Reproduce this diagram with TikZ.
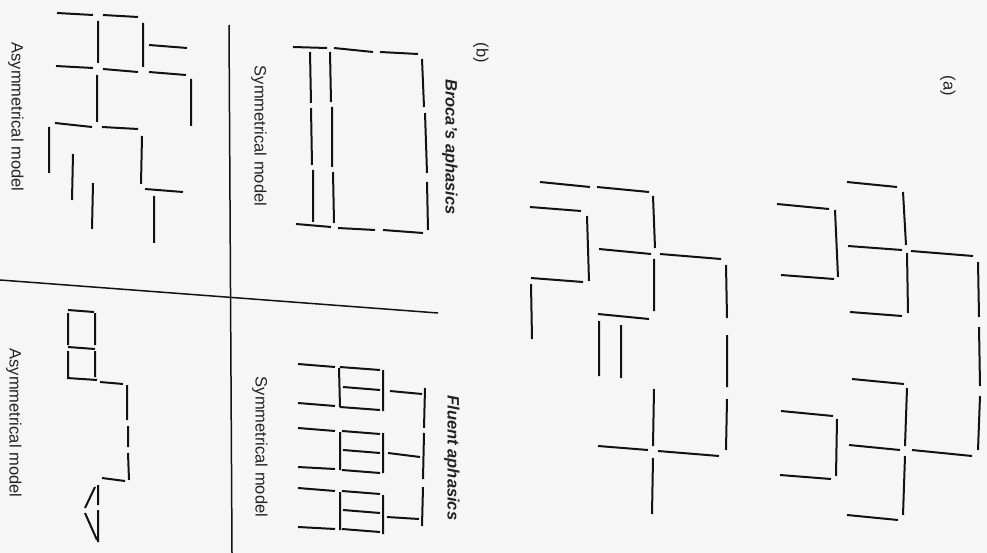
\documentclass[tikz,border=0pt]{standalone}
\usepackage{fontspec}
\setmainfont{Liberation Sans}
\definecolor{paper}{RGB}{246,246,246}
\definecolor{ink}{RGB}{18,18,18}
\definecolor{txt}{RGB}{35,35,35}
\tikzset{
  ln/.style={draw=ink, line width=2pt},
  divider/.style={draw=ink, line width=1.5pt},
  lbl/.style={text=txt, inner sep=0pt, rotate=-90, font=\fontsize{16.5}{18}\selectfont},
  ttl/.style={lbl, font=\fontsize{16.5}{18}\selectfont\bfseries\itshape},
}
\begin{document}
\begin{tikzpicture}[x=1pt,y=-1pt]
\fill[paper] (0,0) rectangle (987,553);
\useasboundingbox (0,0) rectangle (987,553);

% dividers of (b)
\draw[divider] (229,25) -- (232,553);
\draw[divider] (0,280) -- (438,313);

% labels
\node[lbl] (asymA) at (16,117) {Asymmetrical model};
\node[lbl] (symA) at (259,136) {Symmetrical model};
\node[ttl] (broca) at (450,147) {Broca's aphasics};
\node[lbl] (labb) at (481,53) {(b)};
\node[lbl] (laba) at (948,86) {(a)};
\node[lbl] (asymB) at (14,423) {Asymmetrical model};
\node[lbl] (symB) at (260,447) {Symmetrical model};
\node[ttl] (fluent) at (452,458) {Fluent aphasics};

% Broca, asymmetrical model
\draw[ln] (57,13)--(93,15) (103,15)--(138,17) (149,45)--(187,48)
  (56,66)--(93,68) (103,69)--(138,72) (149,72)--(186,75)
  (55,123)--(92,127) (102,127)--(138,129) (145,189)--(183,192)
  (98,21)--(98,63) (143,23)--(143,67) (97,75)--(97,122)
  (191,79)--(191,126) (142,136)--(141,184) (49,127)--(49,173)
  (73,154)--(72,200) (93,183)--(92,229) (154,196)--(154,243);

% Broca, symmetrical model
\draw[ln] (293,47)--(327,48) (334,48)--(373,52) (380,52)--(418,54)
  (296,224)--(331,227) (338,228)--(375,230) (383,230)--(423,233)
  (422,59)--(424,107) (425,113)--(427,173) (427,182)--(428,230)
  (310,52)--(311,103) (311,108)--(312,165) (313,170)--(313,222)
  (330,52)--(331,102) (332,107)--(332,167) (333,172)--(334,223);

% Fluent, asymmetrical model
\draw[ln] (68,310)--(94,312) (67,378)--(97,380) (68,347)--(95,349)
  (68,313)--(68,345) (68,351)--(68,377)
  (95,313)--(95,345) (95,351)--(95,377)
  (100,382)--(123,384)
  (127,385)--(127,420) (128,426)--(128,447) (128,453)--(129,480)
  (102,478)--(125,481)
  (98,485)--(98,505) (98,510)--(98,542)
  (95,487)--(85,508) (85,513)--(97,540);

% Fluent, symmetrical model
\draw[ln] (298,364)--(335,367) (298,403)--(335,406)
  (340,367)--(380,370) (343,387)--(380,390) (340,407)--(380,410)
  (339,368)--(340,407) (383,370)--(383,411) (390,391)--(422,394)
  (298,428)--(335,431) (298,467)--(335,469)
  (342,431)--(380,434) (343,450)--(380,453) (342,470)--(380,473)
  (340,432)--(340,470) (383,433)--(383,473) (388,453)--(420,457)
  (298,488)--(335,491) (298,527)--(335,529)
  (342,491)--(380,494) (343,510)--(380,513) (342,529)--(380,532)
  (340,492)--(340,530) (383,495)--(383,534) (387,517)--(419,519)
  (425,388)--(424,428) (424,433)--(423,479) (423,487)--(422,526);

% (a), left tree
\draw[ln] (540,182)--(590,187) (597,187)--(649,192) (530,207)--(581,211)
  (599,249)--(651,254) (660,254)--(721,259) (531,278)--(583,282)
  (598,314)--(649,319)
  (653,196)--(655,248) (587,216)--(589,281) (654,259)--(654,311)
  (726,265)--(727,318) (727,335)--(727,387) (727,399)--(726,450)
  (531,284)--(532,339) (599,321)--(599,376) (621,325)--(621,378)
  (654,389)--(653,446) (598,446)--(648,450) (658,451)--(719,456)
  (653,458)--(652,514);

% (a), right tree
\draw[ln] (847,182)--(897,187) (777,204)--(829,209) (848,246)--(902,250)
  (911,251)--(973,256) (781,275)--(834,279) (850,312)--(902,316)
  (852,379)--(904,384)
  (903,192)--(906,245) (835,210)--(838,277) (907,253)--(908,313)
  (978,262)--(979,317) (979,327)--(980,386) (980,396)--(978,450)
  (907,388)--(905,446) (849,445)--(900,450) (912,450)--(972,456)
  (905,456)--(903,515) (847,515)--(898,520)
  (781,411)--(833,416) (837,419)--(836,476) (780,475)--(831,479);
\end{tikzpicture}
\end{document}
